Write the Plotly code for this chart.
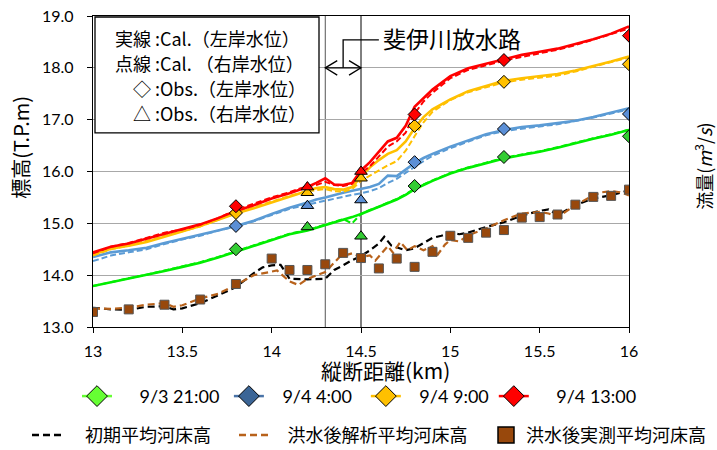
import plotly.graph_objects as go

# ---------------- data ----------------
X_WL = [13.0, 13.1, 13.2, 13.3, 13.4, 13.5, 13.6, 13.7, 13.8, 13.9, 14.0, 14.1, 14.2, 14.25, 14.3,
        14.35, 14.4, 14.45, 14.5, 14.55, 14.6, 14.65, 14.7, 14.75, 14.8, 14.85, 14.9, 15.0, 15.1,
        15.2, 15.3, 15.4, 15.5, 15.6, 15.7, 15.8, 15.9, 16.0]

red_left = [14.44, 14.55, 14.61, 14.70, 14.79, 14.88, 14.98, 15.10, 15.24, 15.35, 15.48, 15.58, 15.70, 15.78, 15.87,
            15.75, 15.74, 15.78, 16.02, 16.18, 16.38, 16.58, 16.65, 16.88, 17.25, 17.42, 17.58, 17.84, 17.99,
            18.08, 18.17, 18.25, 18.31, 18.37, 18.46, 18.55, 18.66, 18.80]
red_right = [14.42, 14.55, 14.62, 14.72, 14.82, 14.88, 14.97, 15.10, 15.26, 15.38, 15.50, 15.60, 15.72, 15.74, 15.80,
             15.74, 15.72, 15.76, 15.97, 16.10, 16.28, 16.48, 16.58, 16.75, 17.12, 17.35, 17.52, 17.80, 17.96,
             18.05, 18.14, 18.21, 18.28, 18.35, 18.44, 18.54, 18.65, 18.76]
orange_left = [14.40, 14.51, 14.57, 14.64, 14.74, 14.84, 14.95, 15.07, 15.19, 15.29, 15.40, 15.52, 15.63, 15.68, 15.70,
               15.66, 15.65, 15.70, 15.90, 16.08, 16.22, 16.34, 16.41, 16.58, 16.84, 17.05, 17.20, 17.39, 17.55,
               17.65, 17.75, 17.80, 17.84, 17.88, 17.95, 18.03, 18.12, 18.22]
orange_right = [14.38, 14.50, 14.57, 14.66, 14.76, 14.84, 14.94, 15.07, 15.20, 15.31, 15.42, 15.53, 15.62, 15.64, 15.66,
                15.62, 15.61, 15.66, 15.82, 15.92, 16.02, 16.12, 16.20, 16.40, 16.68, 16.95, 17.15, 17.38, 17.53,
                17.63, 17.72, 17.77, 17.81, 17.85, 17.93, 18.02, 18.10, 18.20]
blue_left = [14.35, 14.44, 14.48, 14.53, 14.62, 14.70, 14.77, 14.86, 14.95, 15.05, 15.18, 15.30, 15.40, 15.46, 15.50,
             15.55, 15.59, 15.63, 15.66, 15.70, 15.76, 15.92, 15.91, 16.04, 16.16, 16.26, 16.34, 16.48, 16.60,
             16.72, 16.80, 16.86, 16.89, 16.93, 16.98, 17.05, 17.13, 17.22]
blue_right = [14.27, 14.38, 14.44, 14.50, 14.60, 14.69, 14.76, 14.86, 14.94, 15.04, 15.16, 15.28, 15.36, 15.40, 15.44,
              15.48, 15.52, 15.55, 15.58, 15.62, 15.68, 15.78, 15.86, 15.98, 16.09, 16.20, 16.30, 16.45, 16.58,
              16.70, 16.78, 16.83, 16.87, 16.91, 16.97, 17.04, 17.12, 17.20]
green_left = [13.79, 13.86, 13.93, 14.00, 14.08, 14.16, 14.24, 14.34, 14.45, 14.56, 14.67, 14.79, 14.86, 14.91, 14.96,
              15.02, 15.07, 15.12, 15.18, 15.25, 15.31, 15.39, 15.46, 15.55, 15.66, 15.74, 15.82, 15.96, 16.07,
              16.16, 16.25, 16.32, 16.38, 16.46, 16.55, 16.63, 16.71, 16.80]
green_right = [13.79, 13.87, 13.94, 14.01, 14.09, 14.17, 14.25, 14.35, 14.46, 14.57, 14.68, 14.80, 14.87, 14.92, 14.97,
               15.03, 15.08, 15.00, 15.18, 15.26, 15.32, 15.40, 15.47, 15.56, 15.67, 15.75, 15.83, 15.97, 16.08,
               16.17, 16.26, 16.33, 16.39, 16.47, 16.56, 16.64, 16.72, 16.81]

# observed left bank (diamonds) and right bank (triangles)
DIA_X = [13.8, 14.8, 15.3, 16.0]
green_obs_l = [14.50, 15.72, 16.28, 16.68]
blue_obs_l = [14.95, 16.18, 16.82, 17.11]
orange_obs_l = [15.20, 16.88, 17.73, 18.07]
red_obs_l = [15.33, 17.10, 18.15, 18.62]
TRI_X = [14.2, 14.5]
green_obs_r = [14.93, 14.75]
blue_obs_r = [15.34, 15.45]
orange_obs_r = [15.59, 15.87]
red_obs_r = [15.70, 16.00]

# bed levels
BED0_X = [13.0, 13.1, 13.2, 13.3, 13.4, 13.45, 13.5, 13.6, 13.7, 13.8, 13.9, 13.95, 14.0, 14.05, 14.1, 14.2,
          14.3, 14.35, 14.4, 14.45, 14.5, 14.55, 14.6, 14.63, 14.67, 14.7, 14.75, 14.8, 14.85, 14.9, 14.95,
          15.0, 15.05, 15.1, 15.2, 15.3, 15.4, 15.5, 15.55, 15.6, 15.7, 15.8, 15.9, 16.0]
bed_initial = [13.37, 13.34, 13.33, 13.39, 13.40, 13.34, 13.36, 13.46, 13.61, 13.77, 14.04, 14.15, 14.19, 14.20,
               13.93, 13.92, 13.93, 14.10, 14.19, 14.29, 14.37, 14.48, 14.61, 14.74, 14.57, 14.54, 14.48, 14.52,
               14.62, 14.72, 14.76, 14.82, 14.79, 14.82, 14.93, 15.02, 15.15, 15.24, 15.27, 15.16, 15.35, 15.48,
               15.54, 15.64]
BED1_X = [13.0, 13.1, 13.2, 13.3, 13.4, 13.45, 13.5, 13.6, 13.7, 13.8, 13.9, 14.0, 14.03, 14.1, 14.15, 14.2,
          14.3, 14.38, 14.45, 14.5, 14.55, 14.58, 14.62, 14.65, 14.68, 14.72, 14.76, 14.8, 14.85, 14.9, 14.93,
          14.97, 15.0, 15.05, 15.1, 15.2, 15.3, 15.4, 15.5, 15.55, 15.6, 15.7, 15.8, 15.85, 15.9, 15.95, 16.0]
bed_post_calc = [13.36, 13.35, 13.37, 13.43, 13.46, 13.39, 13.42, 13.55, 13.64, 13.81, 14.00, 14.06, 14.09, 13.88,
                 13.81, 13.93, 14.06, 14.35, 14.42, 14.35, 14.38, 14.28, 14.45, 14.56, 14.43, 14.64, 14.48, 14.56,
                 14.48, 14.56, 14.40, 14.59, 14.68, 14.65, 14.77, 14.90, 15.06, 15.19, 15.22, 15.19, 15.12, 15.35,
                 15.54, 15.60, 15.62, 15.60, 15.54]
SQ_X = [13.0, 13.2, 13.4, 13.6, 13.8, 14.0, 14.1, 14.2, 14.3, 14.4, 14.5, 14.6, 14.7, 14.8, 14.9, 15.0, 15.1,
        15.2, 15.3, 15.4, 15.5, 15.6, 15.7, 15.8, 15.9, 16.0]
bed_post_meas = [13.29, 13.34, 13.43, 13.53, 13.83, 14.32, 14.10, 14.10, 14.21, 14.43, 14.33, 14.13, 14.32, 14.16,
                 14.45, 14.76, 14.72, 14.82, 14.87, 15.11, 15.12, 15.17, 15.36, 15.51, 15.53, 15.65]

SERIES_NAMES = ["9/3 21:00", "9/4 4:00", "9/4 9:00", "9/4 13:00"]
BED_NAMES = ["初期平均河床高", "洪水後解析平均河床高", "洪水後実測平均河床高"]
Y_TICKS = [13, 14, 15, 16, 17, 18, 19]
X_TICKS = [13, 13.5, 14, 14.5, 15, 15.5, 16]

# ---------------- styles ----------------
LINE_COL = ["#00ee00", "#5b9bd5", "#ffc000", "#ff0000"]
MARK_COL = ["#33cc33", "#5b8fd6", "#ffc000", "#ff0000"]
LEG_LINE = ["#66ff33", "#4a74a8", "#ffc000", "#ff0000"]
LEG_MARK = ["#66ff33", "#3b6596", "#ffc000", "#ff0000"]
CJK = "Noto Sans CJK JP, sans-serif"
NUM = "Lato, Noto Sans CJK JP, sans-serif"
ES = "\u2002"   # en space
QS = "\u2005"   # four-per-em space
LEAD = [ES + ES + QS, ES + QS, ES + QS, ES + ES + QS]
TRAIL = [QS, ES, "", ""]

left = [green_left, blue_left, orange_left, red_left]
right = [green_right, blue_right, orange_right, red_right]
obs_l = [green_obs_l, blue_obs_l, orange_obs_l, red_obs_l]
obs_r = [green_obs_r, blue_obs_r, orange_obs_r, red_obs_r]

fig = go.Figure()

# bed lines
fig.add_trace(go.Scatter(x=BED0_X, y=bed_initial, mode="lines", showlegend=False,
                         line=dict(color="#000000", width=2.2, dash="7px,4px")))
fig.add_trace(go.Scatter(x=BED1_X, y=bed_post_calc, mode="lines", showlegend=False,
                         line=dict(color="#b8621b", width=2.2, dash="7px,4px")))

# water level lines
for i in range(4):
    fig.add_trace(go.Scatter(x=X_WL, y=right[i], mode="lines", showlegend=False,
                             line=dict(color=LINE_COL[i], width=2, dash="6px,3px")))
    fig.add_trace(go.Scatter(x=X_WL, y=left[i], mode="lines", showlegend=False,
                             line=dict(color=LINE_COL[i], width=2.6)))

# measured bed squares
fig.add_trace(go.Scatter(x=SQ_X, y=bed_post_meas, mode="markers", showlegend=False,
                         marker=dict(symbol="square", size=9, color="#98480c",
                                     line=dict(color="#555555", width=1))))

# observed markers
for i in range(4):
    fig.add_trace(go.Scatter(x=DIA_X, y=obs_l[i], mode="markers", showlegend=False,
                             marker=dict(symbol="diamond", size=10, color=MARK_COL[i],
                                         line=dict(color="#000000", width=1))))
    fig.add_trace(go.Scatter(x=TRI_X, y=obs_r[i], mode="markers", showlegend=False,
                             marker=dict(symbol="triangle-up", size=11, color=MARK_COL[i],
                                         line=dict(color="#000000", width=1))))

# legend entries row 1
for i in range(4):
    fig.add_trace(go.Scatter(x=[None], y=[None], mode="lines+markers",
                             name=LEAD[i] + SERIES_NAMES[i] + TRAIL[i],
                             legend="legend",
                             line=dict(color=LEG_LINE[i], width=2.5),
                             marker=dict(symbol="diamond", size=16, color=LEG_MARK[i],
                                         line=dict(color="#000000", width=1))))
# legend entries row 2
fig.add_trace(go.Scatter(x=[None], y=[None], mode="lines", name=ES + ES + BED_NAMES[0] + ES + ES,
                         legend="legend2", line=dict(color="#000000", width=2.5, dash="7px,4px")))
fig.add_trace(go.Scatter(x=[None], y=[None], mode="lines", name=ES + QS + BED_NAMES[1], legend="legend2",
                         line=dict(color="#b8621b", width=2.5, dash="7px,4px")))
fig.add_trace(go.Scatter(x=[None], y=[None], mode="markers", name=BED_NAMES[2], legend="legend3",
                         marker=dict(symbol="square", size=16, color="#98480c",
                                     line=dict(color="#000000", width=1.5))))

L, R, T, B = 93, 88, 16, 122.5
W, H = 717, 450
pw, ph = W - L - R, H - T - B


def px2x(px):
    return (px - L) / pw


def py2y(py):
    return (H - B - py) / ph


shapes = [
    dict(type="line", xref="x", yref="paper", x0=14.3, x1=14.3, y0=0, y1=1,
         line=dict(color="#555555", width=1), layer="between"),
    dict(type="line", xref="x", yref="paper", x0=14.5, x1=14.5, y0=0, y1=1,
         line=dict(color="#000000", width=1), layer="between"),
    # legend box for line styles
    dict(type="rect", xref="paper", yref="paper", x0=px2x(95), x1=px2x(319), y0=py2y(133), y1=py2y(17),
         line=dict(color="#000000", width=1.3), fillcolor="#ffffff", layer="above"),
    # bracket for 斐伊川放水路
    dict(type="path", xref="x", yref="y", path="M 14.4 18.0 L 14.4 18.54 L 14.6 18.54",
         line=dict(color="#000000", width=1.3)),
    dict(type="line", xref="x", yref="y", x0=14.3, x1=14.5, y0=18.0, y1=18.0,
         line=dict(color="#000000", width=1.3)),
    dict(type="path", xref="x", yref="y", path="M 14.367 18.14 L 14.3 18.0 L 14.367 17.86",
         line=dict(color="#000000", width=1.3)),
    dict(type="path", xref="x", yref="y", path="M 14.433 18.14 L 14.5 18.0 L 14.433 17.86",
         line=dict(color="#000000", width=1.3)),
]

box_left = ["実線", "点線", "◇", "△"]
box_right = [":Cal.（左岸水位）", ":Cal. （右岸水位）", ":Obs.（左岸水位）", ":Obs.（右岸水位）"]
box_py = [38, 63, 88, 113]
annotations = []
for lt, rt, yy in zip(box_left, box_right, box_py):
    annotations.append(dict(xref="paper", yref="paper", x=px2x(153), y=py2y(yy), text=lt, showarrow=False,
                            xanchor="right", yanchor="middle", font=dict(family=CJK, size=18, color="#000")))
    annotations.append(dict(xref="paper", yref="paper", x=px2x(153), y=py2y(yy), text=rt, showarrow=False,
                            xanchor="left", yanchor="middle", font=dict(family=CJK, size=18, color="#000")))

annotations += [
    dict(xref="paper", yref="paper", x=px2x(381), y=py2y(38), text="斐伊川放水路", showarrow=False,
         xanchor="left", yanchor="middle", font=dict(family=CJK, size=23, color="#000")),
    dict(xref="paper", yref="paper", x=px2x(21), y=py2y(148), text="標高(T.P.m)", showarrow=False,
         textangle=-90, xanchor="center", yanchor="middle", font=dict(family=CJK, size=20, color="#000")),
    dict(xref="paper", yref="paper", x=px2x(703), y=py2y(167),
         text="流量(<i>m</i><sup>3</sup>/<i>s</i>)", showarrow=False,
         textangle=-90, xanchor="center", yanchor="middle", font=dict(family=CJK, size=18, color="#000")),
    dict(xref="paper", yref="paper", x=px2x(385), y=py2y(371), text="縦断距離(km)", showarrow=False,
         xanchor="center", yanchor="middle", font=dict(family=CJK, size=21, color="#000")),
]

fig.update_layout(
    width=W, height=H,
    margin=dict(l=L, r=R, t=T, b=B, pad=0, autoexpand=False),
    paper_bgcolor="#ffffff", plot_bgcolor="#ffffff",
    shapes=shapes, annotations=annotations,
    legend=dict(orientation="h", x=px2x(77), xanchor="left", y=py2y(397), yanchor="middle",
                font=dict(family=NUM, size=18, color="#000"), bgcolor="rgba(0,0,0,0)",
                itemsizing="trace", traceorder="normal"),
    legend2=dict(orientation="h", x=px2x(27), xanchor="left", y=py2y(436), yanchor="middle",
                 font=dict(family=CJK, size=18, color="#000"), bgcolor="rgba(0,0,0,0)",
                 itemsizing="trace", traceorder="normal"),
    legend3=dict(orientation="h", x=px2x(486), xanchor="left", y=py2y(436), yanchor="middle",
                 font=dict(family=CJK, size=18, color="#000"), bgcolor="rgba(0,0,0,0)",
                 itemsizing="trace", traceorder="normal"),
    xaxis=dict(range=[13, 16], tickvals=X_TICKS, ticktext=[f"{v:g}" for v in X_TICKS],
               showgrid=False, zeroline=False, showline=True, linecolor="#000", linewidth=1.3,
               mirror=True, ticks="outside", ticklen=5, tickcolor="#000", ticklabelstandoff=5,
               tickfont=dict(family=NUM, size=16, color="#000")),
    yaxis=dict(range=[13, 19], tickvals=Y_TICKS, ticktext=[f"{v:.1f}" for v in Y_TICKS],
               showgrid=True, gridcolor="#a8a8a8", gridwidth=1.3, zeroline=False,
               showline=True, linecolor="#000", linewidth=1.3, mirror=True,
               ticks="outside", ticklen=5, tickcolor="#000", ticklabelstandoff=10,
               tickfont=dict(family=NUM, size=16, color="#000")),
)

fig.write_html("out.html", config={"displayModeBar": False},
               post_script="document.body.style.margin='0';document.body.style.overflow='hidden';")
